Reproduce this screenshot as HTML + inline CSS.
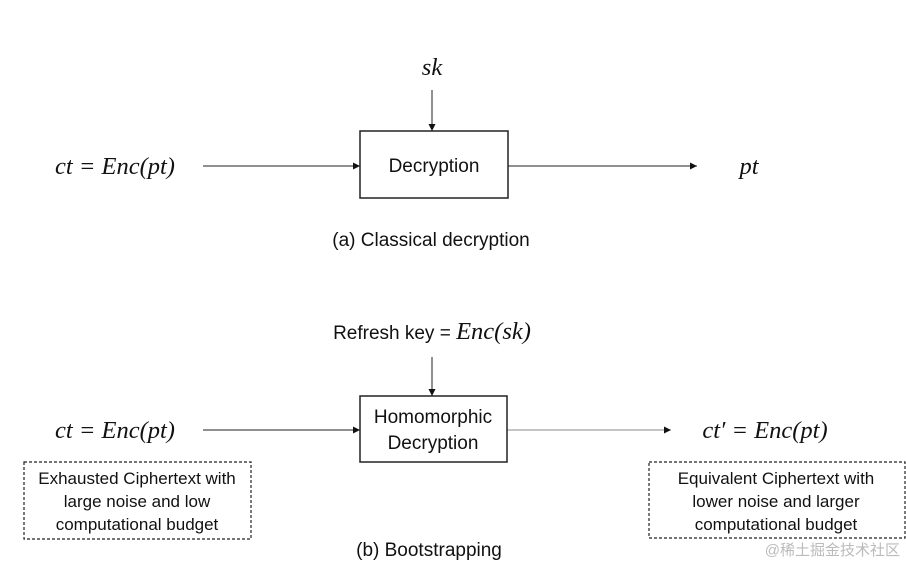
<!DOCTYPE html>
<html><head><meta charset="utf-8"><style>
html,body{margin:0;padding:0;background:#fff;}
svg{display:block;}
.m{font-family:"Liberation Serif",serif;font-style:italic;font-size:24.5px;fill:#111;}
.t{font-family:"Liberation Sans",sans-serif;font-size:19px;fill:#111;}
.s{font-family:"Liberation Sans",sans-serif;font-size:17px;fill:#111;}
</style></head><body>
<svg width="906" height="566" viewBox="0 0 906 566" xmlns="http://www.w3.org/2000/svg">
<defs><marker id="a" markerWidth="8" markerHeight="8" refX="7" refY="4" orient="auto" markerUnits="userSpaceOnUse"><path d="M0,0.5 L7,4 L0,7.5z" fill="#111"/></marker></defs>
<g stroke="#222" stroke-width="1" fill="none">
<line x1="432" y1="90" x2="432" y2="131" marker-end="url(#a)"/>
<line x1="203" y1="166" x2="360" y2="166" marker-end="url(#a)"/>
<line x1="508" y1="166" x2="697" y2="166" marker-end="url(#a)"/>
<rect x="360" y="131" width="148" height="67" stroke-width="1.5"/>
<line x1="432" y1="357" x2="432" y2="396" marker-end="url(#a)"/>
<line x1="203" y1="430" x2="360" y2="430" marker-end="url(#a)"/>
<line x1="507" y1="430" x2="671" y2="430" stroke="#888" marker-end="url(#a)"/>
<rect x="360" y="396" width="147" height="66" stroke-width="1.5"/>
<rect x="24" y="462" width="227" height="77" stroke-dasharray="3,2" stroke-width="1.2"/>
<rect x="649" y="462" width="256" height="76" stroke-dasharray="3,2" stroke-width="1.2"/>
</g>
<text class="m" x="432" y="75" text-anchor="middle">sk</text>
<text class="m" x="115" y="174" text-anchor="middle">ct = Enc(pt)</text>
<text class="m" x="749" y="174" text-anchor="middle">pt</text>
<text class="t" x="434" y="172" text-anchor="middle">Decryption</text>
<text class="t" x="431" y="246" text-anchor="middle">(a) Classical decryption</text>
<text x="432" y="339" text-anchor="middle"><tspan class="t">Refresh key = </tspan><tspan class="m">Enc(sk)</tspan></text>
<text class="t" x="433" y="423" text-anchor="middle">Homomorphic</text>
<text class="t" x="433" y="449" text-anchor="middle">Decryption</text>
<text class="m" x="115" y="438" text-anchor="middle">ct = Enc(pt)</text>
<text class="m" x="765" y="438" text-anchor="middle">ct′ = Enc(pt)</text>
<text class="s" x="137" y="484" text-anchor="middle">Exhausted Ciphertext with</text>
<text class="s" x="137" y="507" text-anchor="middle">large noise and low</text>
<text class="s" x="137" y="530" text-anchor="middle">computational budget</text>
<text class="s" x="776" y="484" text-anchor="middle">Equivalent Ciphertext with</text>
<text class="s" x="776" y="507" text-anchor="middle">lower noise and larger</text>
<text class="s" x="776" y="530" text-anchor="middle">computational budget</text>
<text class="t" x="429" y="556" text-anchor="middle">(b) Bootstrapping</text>
<text x="900" y="555" text-anchor="end" style="font-family:'Liberation Sans','Noto Sans CJK SC',sans-serif;font-size:15px;fill:#bbb">@稀土掘金技术社区</text>
</svg>
</body></html>
